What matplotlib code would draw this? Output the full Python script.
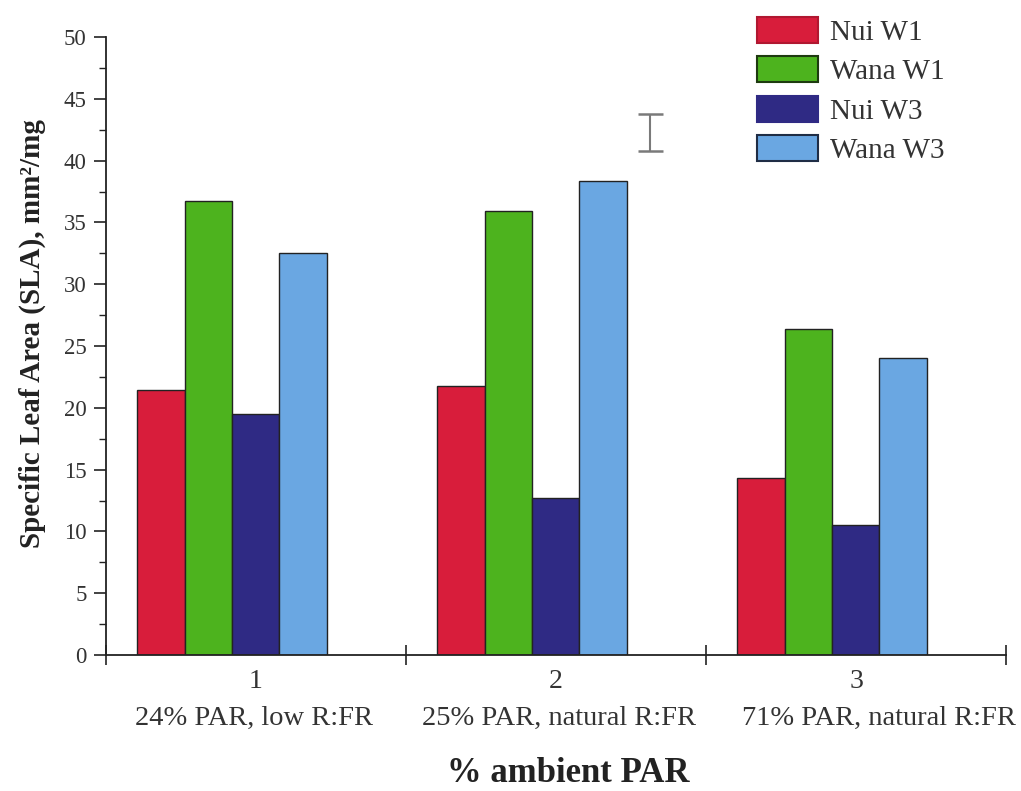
import matplotlib
matplotlib.use("Agg")
import matplotlib.pyplot as plt
from matplotlib.patches import Patch
from matplotlib.ticker import MultipleLocator

plt.rcParams['font.family'] = ['Liberation Serif', 'DejaVu Serif']

# SLA by light treatment (mm2/mg)
series = ['Nui W1', 'Wana W1', 'Nui W3', 'Wana W3']
nui_w1 = [21.4, 21.8, 14.3]
wana_w1 = [36.75, 35.95, 26.4]
nui_w3 = [19.5, 12.7, 10.5]
wana_w3 = [32.55, 38.35, 24.0]
group_numbers = ['1', '2', '3']
group_labels = ['24% PAR, low R:FR', '25% PAR, natural R:FR', '71% PAR, natural R:FR']

# LSD bar
lsd_center = 42.3
lsd_half = 1.5

colors = ['#d81d3b', '#4db31e', '#2f2a84', '#6aa7e2']
edges = ['#b01830', '#1e3a10', '#2f2a84', '#1f2d45']

fig = plt.figure(figsize=(10.21, 7.91), dpi=100)
ax = fig.add_axes([106 / 1021, 1 - 655 / 791, 900 / 1021, 618 / 791])

values = [nui_w1, wana_w1, nui_w3, wana_w3]
bar_w = 0.158
start = 0.104
for j, vals in enumerate(values):
    xs = [i + start + j * bar_w for i in range(len(vals))]
    ax.bar(xs, vals, width=bar_w, align='edge', color=colors[j],
           edgecolor='#222222', linewidth=1.0, zorder=2)

ax.errorbar([1.813], [lsd_center], yerr=[lsd_half], fmt='none',
            ecolor='#7a7a7a', elinewidth=1.5, capsize=9, capthick=1.8, zorder=3)

ax.set_xlim(0, 3)
ax.set_ylim(0, 50)
for s in ['top', 'right']:
    ax.spines[s].set_visible(False)
for s in ['left', 'bottom']:
    ax.spines[s].set_linewidth(1.3)
    ax.spines[s].set_color('#222222')

ax.yaxis.set_major_locator(MultipleLocator(5))
ax.yaxis.set_minor_locator(MultipleLocator(2.5))
ax.tick_params(axis='y', which='major', length=9, width=1.2, labelsize=16.5,
               pad=5, colors='#222222', labelcolor='#333333')
ax.tick_params(axis='y', which='minor', length=5, width=1.0, colors='#222222')

ax.set_xticks([0, 1, 2, 3])
ax.set_xticklabels([])
ax.tick_params(axis='x', which='major', direction='inout', length=14, width=1.2,
               colors='#222222')
ax.set_xticks([0.5, 1.5, 2.5], minor=True)
ax.set_xticklabels(group_numbers, minor=True)
ax.tick_params(axis='x', which='minor', length=0, labelsize=20, pad=10,
               labelcolor='#333333')

desc_x = [0.493, 1.51, 2.577]
for x, lab in zip(desc_x, group_labels):
    ax.text(x, -0.102, lab, transform=ax.get_xaxis_transform(), ha='center',
            va='center', fontsize=20.5, color='#333333')

ax.set_ylabel('Specific Leaf Area (SLA), mm²/mg', fontsize=21,
              fontweight='bold', color='#222222')
ax.yaxis.set_label_coords(-0.067, 0.52)

fig.text(568 / 1021, 1 - 773 / 791, '% ambient PAR', ha='center', va='center',
         fontsize=25, fontweight='bold', color='#222222')

handles = [Patch(facecolor=c, edgecolor=e, linewidth=1.5) for c, e in zip(colors, edges)]
fig.legend(handles, series, loc='upper left', bbox_to_anchor=(745 / 1021, 1 - 5 / 791),
           frameon=False, fontsize=21, handlelength=2.1, handleheight=1.0,
           handletextpad=0.4, labelspacing=0.36, borderaxespad=0,
           labelcolor='#333333')

fig.savefig('out.png', dpi=100, facecolor='white')
